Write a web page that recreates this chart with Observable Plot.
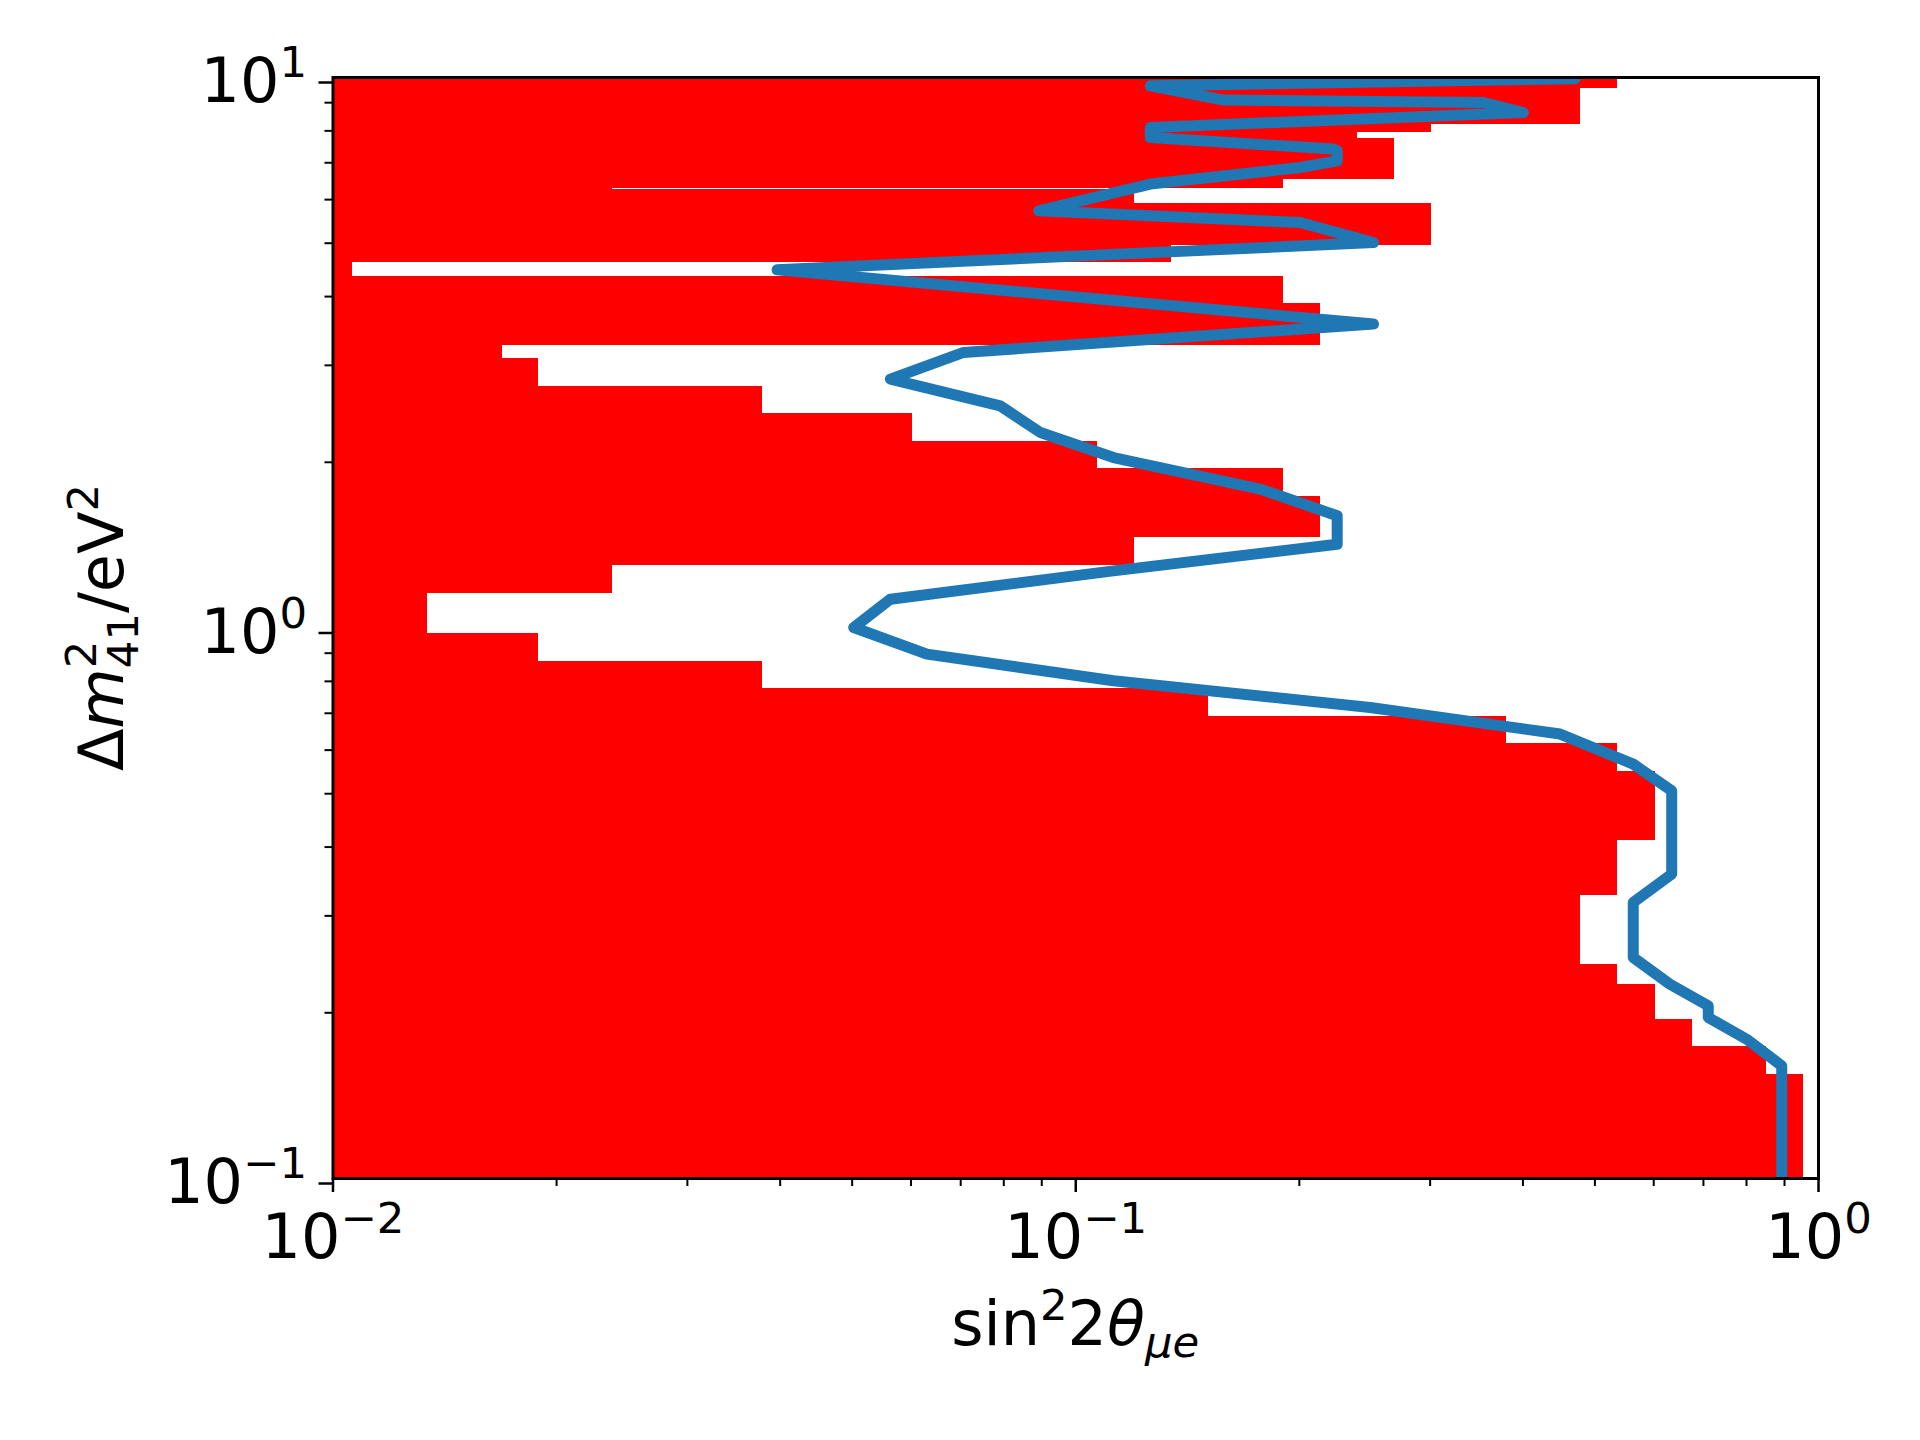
<!DOCTYPE html>
<html>
<head>
<meta charset="utf-8">
<script src="https://cdn.jsdelivr.net/npm/d3@7"></script>
<script src="https://cdn.jsdelivr.net/npm/@observablehq/plot@0.6"></script>
<style>
html, body { margin: 0; padding: 0; background: #fff; overflow: hidden; }
#chart svg { display: block; }
</style>
</head>
<body>
<div id="chart"></div>
<script>
// ---- Red excluded region: horizontal bands (Δm² range) with sin²2θ extent ----
const redYTop = [10, 9.550, 8.222, 7.945, 7.739, 6.528, 6.287, 6.287, 6.252, 5.896, 4.953, 4.607, 4.344, 3.881, 3.256, 3.084, 2.743, 2.449, 2.179, 1.946, 1.731, 1.458, 1.297, 1.154, 0.9773, 0.8683, 0.7754, 0.6898, 0.6161, 0.5479, 0.4107, 0.3263, 0.2444, 0.2247, 0.1942, 0.1735, 0.1543];
const redYBottom = [9.550, 8.222, 7.945, 7.739, 6.528, 6.287, 6.252, 6.252, 5.896, 4.953, 4.607, 4.344, 3.881, 3.256, 3.084, 2.743, 2.449, 2.179, 1.946, 1.731, 1.458, 1.297, 1.154, 0.9773, 0.8683, 0.7754, 0.6898, 0.6161, 0.5479, 0.4107, 0.3263, 0.2444, 0.2247, 0.1942, 0.1735, 0.1543, 0.1];
const redXLeft = [0.01, 0.01, 0.01, 0.01, 0.01, 0.01, 0.01, 0.1113, 0.01, 0.01, 0.01, 0.01, 0.01, 0.01, 0.01, 0.01, 0.01, 0.01, 0.01, 0.01, 0.01, 0.01, 0.01, 0.01, 0.01, 0.01, 0.01, 0.01, 0.01, 0.01, 0.01, 0.01, 0.01, 0.01, 0.01, 0.01, 0.01];
const redXRight = [0.5356, 0.4775, 0.3010, 0.2393, 0.2684, 0.1902, 0.02377, 0.1199, 0.1199, 0.3010, 0.1345, 0.01062, 0.1902, 0.2134, 0.01689, 0.01891, 0.03785, 0.06024, 0.1069, 0.1902, 0.2134, 0.1199, 0.02377, 0.01339, 0.01891, 0.03785, 0.1508, 0.3797, 0.5356, 0.6025, 0.5356, 0.4775, 0.5356, 0.6025, 0.6757, 0.8500, 0.9531];

// ---- Blue contour line ----
const contourX = [0.470, 0.1260, 0.1581, 0.3538, 0.4005, 0.1260, 0.1260, 0.2223, 0.2249, 0.2249, 0.2005, 0.1260, 0.08914, 0.2005, 0.2517, 0.03962, 0.2517, 0.07063, 0.05629, 0.07913, 0.08961, 0.1124, 0.1772, 0.2249, 0.2249, 0.1124, 0.05629, 0.05024, 0.06305, 0.1124, 0.2491, 0.4489, 0.5631, 0.6344, 0.6344, 0.5631, 0.5631, 0.6310, 0.7105, 0.7105, 0.8004, 0.8923, 0.8923];
const contourY = [9.95, 9.659, 9.099, 9.008, 8.639, 8.113, 7.781, 7.412, 7.359, 7.058, 6.863, 6.403, 5.726, 5.453, 5.015, 4.475, 3.565, 3.167, 2.832, 2.533, 2.265, 2.040, 1.788, 1.599, 1.420, 1.270, 1.128, 1.002, 0.8965, 0.8020, 0.7170, 0.6417, 0.5659, 0.5061, 0.3572, 0.3173, 0.2521, 0.2254, 0.2059, 0.1961, 0.1791, 0.1602, 0.1];

// ---- Ticks ----
const xMajorTicks = [0.01, 0.1, 1];
const xMajorLabels = ["10^−2", "10^−1", "10^0"];
const xMinorTicks = [0.02, 0.03, 0.04, 0.05, 0.06, 0.07, 0.08, 0.09, 0.2, 0.3, 0.4, 0.5, 0.6, 0.7, 0.8, 0.9];
const yMajorTicks = [0.1, 1, 10];
const yMajorLabels = ["10^−1", "10^0", "10^1"];
const yMinorTicks = [0.2, 0.3, 0.4, 0.5, 0.6, 0.7, 0.8, 0.9, 2, 3, 4, 5, 6, 7, 8, 9];

const bands = redYTop.map((t, i) => ({y1: t, y2: redYBottom[i], x1: redXLeft[i], x2: redXRight[i]}));
const contour = contourX.map((x, i) => ({x, y: contourY[i]}));

const FS = 62, SFS = 43.4;

const chart = Plot.plot({
  width: 1920,
  height: 1440,
  marginLeft: 332.5,
  marginRight: 102,
  marginTop: 77,
  marginBottom: 262,
  style: {fontFamily: "DejaVu Sans", background: "white", color: "black"},
  x: {type: "log", domain: [0.01, 1], label: null},
  y: {type: "log", domain: [0.1, 10], label: null},
  marks: [
    Plot.rect(bands, {x1: "x1", x2: "x2", y1: "y1", y2: "y2", fill: "red", shapeRendering: "crispEdges"}),
    Plot.line(contour, {x: "x", y: "y", stroke: "#1f77b4", strokeWidth: 11, strokeLinejoin: "round", strokeLinecap: "round", clip: true}),
    Plot.axisX(xMinorTicks, {anchor: "bottom", tickSize: 8, strokeWidth: 2, stroke: "black", fill: "none", label: null}),
    Plot.axisX(xMajorTicks, {anchor: "bottom", tickSize: 14, strokeWidth: 2.5, stroke: "black", fill: "black", tickPadding: 21, fontSize: FS, tickFormat: d => xMajorLabels[xMajorTicks.indexOf(d)], label: null}),
    Plot.axisY(yMinorTicks, {anchor: "left", tickSize: 8, strokeWidth: 2, stroke: "black", fill: "none", label: null}),
    Plot.axisY(yMajorTicks, {anchor: "left", tickSize: 14, strokeWidth: 2.5, stroke: "black", fill: "black", tickPadding: 12, fontSize: FS, dy: 5, tickFormat: d => yMajorLabels[yMajorTicks.indexOf(d)], label: null}),
    Plot.frame({stroke: "black", strokeWidth: 3})
  ]
});

document.getElementById("chart").appendChild(chart);

// Render "10^n" tick labels with real superscripts
d3.select(chart).selectAll("text").each(function () {
  const m = /^10\^(.+)$/.exec(this.textContent);
  if (!m) return;
  const sel = d3.select(this);
  sel.text(null);
  sel.append("tspan").text("10");
  sel.append("tspan").attr("font-size", SFS).attr("dy", -25).text(m[1]);
});

// Axis titles (mathtext-like)
const xs = chart.scale("x"), ys = chart.scale("y");
const xCenter = (xs.range[0] + xs.range[1]) / 2;
const yCenter = (ys.range[0] + ys.range[1]) / 2;
const g = d3.select(chart).append("g").attr("font-family", "DejaVu Sans").attr("fill", "black").attr("font-size", FS);

const xl = g.append("text").attr("x", xCenter).attr("y", ys.range[0] + 167).attr("text-anchor", "middle");
xl.append("tspan").text("sin");
xl.append("tspan").attr("font-size", SFS).attr("dy", -25).text("2");
xl.append("tspan").attr("dy", 25).text("2");
xl.append("tspan").attr("font-style", "italic").text("θ");
xl.append("tspan").attr("font-style", "italic").attr("font-size", SFS).attr("dy", 12).text("μe");

const yl = g.append("text").attr("transform", `translate(${xs.range[0] - 210},${yCenter}) rotate(-90)`).attr("text-anchor", "middle");
yl.append("tspan").text("Δ");
yl.append("tspan").attr("font-style", "italic").text("m");
yl.append("tspan").attr("font-size", SFS).attr("dy", -27).text("2");
yl.append("tspan").attr("font-size", SFS).attr("dx", -27.6).attr("dy", 27 + 15).text("41");
yl.append("tspan").attr("dy", -15).text("/eV");
yl.append("tspan").attr("font-size", SFS).attr("dy", -25).text("2");
</script>
</body>
</html>
